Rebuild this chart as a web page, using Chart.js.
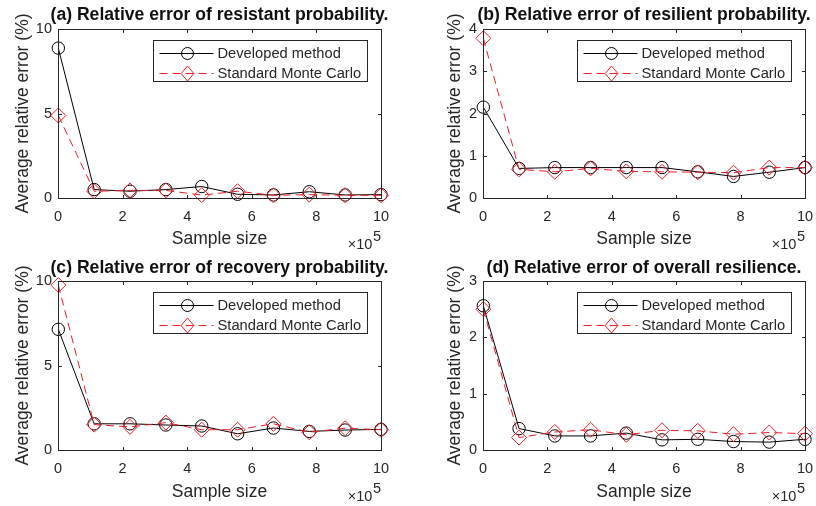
<!DOCTYPE html>
<html><head><meta charset="utf-8">
<script src="https://cdn.jsdelivr.net/npm/chart.js@4/dist/chart.umd.min.js"></script>
<style>
html,body{margin:0;padding:0;background:#fff;}
body{width:816px;height:506px;position:relative;overflow:hidden;}
canvas{position:absolute;}
</style></head>
<body>
<canvas id="pa"></canvas>
<canvas id="pb"></canvas>
<canvas id="pc"></canvas>
<canvas id="pd"></canvas>
<script>
// ---------- data ----------
const sampleSize = [1000, 112000, 223000, 334000, 445000, 556000, 667000, 778000, 889000, 1000000];
const xTickLabels = ['0', '2', '4', '6', '8', '10'];
const seriesNames = ['Developed method', 'Standard Monte Carlo'];
const panelTitles = [
  '(a) Relative error of resistant probability.',
  '(b) Relative error of resilient probability.',
  '(c) Relative error of recovery probability.',
  '(d) Relative error of overall resilience.'
];
const devA = [8.87, 0.50, 0.40, 0.50, 0.68, 0.22, 0.18, 0.37, 0.18, 0.20];
const mcA  = [4.88, 0.40, 0.45, 0.45, 0.17, 0.40, 0.16, 0.20, 0.16, 0.16];
const devB = [2.15, 0.70, 0.72, 0.72, 0.72, 0.72, 0.62, 0.51, 0.61, 0.72];
const mcB  = [3.78, 0.68, 0.62, 0.70, 0.63, 0.62, 0.61, 0.60, 0.72, 0.72];
const devC = [7.14, 1.55, 1.55, 1.48, 1.42, 0.96, 1.30, 1.10, 1.18, 1.22];
const mcC  = [9.76, 1.50, 1.37, 1.62, 1.20, 1.20, 1.55, 1.05, 1.29, 1.20];
const devD = [2.56, 0.38, 0.25, 0.25, 0.30, 0.18, 0.19, 0.15, 0.14, 0.19];
const mcD  = [2.50, 0.22, 0.32, 0.36, 0.27, 0.35, 0.34, 0.28, 0.31, 0.29];
const yMaxes = [10, 4, 10, 3];
const ySteps = [5, 1, 5, 1];
const xLabel = 'Sample size';
const yLabel = 'Average relative error (%)';

// ---------- style ----------
const INK = '#262626';
const BLACK = '#000000';
const RED = '#ee1c25';
const FAM = '"Liberation Sans", Arial, Helvetica, sans-serif';

function drawMarker(ctx, style, x, y, r) {
  ctx.beginPath();
  if (style === 'circle') {
    ctx.arc(x, y, r, 0, Math.PI * 2);
  } else {
    ctx.moveTo(x, y - r); ctx.lineTo(x + r * 0.85, y); ctx.lineTo(x, y + r); ctx.lineTo(x - r * 0.85, y); ctx.closePath();
  }
  ctx.stroke();
}

const matlabPlugin = {
  id: 'matlab',
  afterDraw(chart, args, opts) {
    const ctx = chart.ctx, a = chart.chartArea, xs = chart.scales.x, ys = chart.scales.y;
    ctx.save();
    ctx.strokeStyle = INK; ctx.lineWidth = 1; ctx.setLineDash([]);
    const L = Math.round(a.left) + 0.5, T = Math.round(a.top) + 0.5, R = Math.round(a.right) + 0.5, B = Math.round(a.bottom) + 0.5;
    ctx.strokeRect(L, T, R - L, B - T);
    const tl = 3.5;
    ctx.beginPath();
    xs.ticks.forEach(t => {
      const px = Math.round(xs.getPixelForValue(t.value)) + 0.5;
      ctx.moveTo(px, B); ctx.lineTo(px, B - tl);
      ctx.moveTo(px, T); ctx.lineTo(px, T + tl);
    });
    ys.ticks.forEach(t => {
      const py = Math.round(ys.getPixelForValue(t.value)) + 0.5;
      ctx.moveTo(L, py); ctx.lineTo(L + tl, py);
      ctx.moveTo(R, py); ctx.lineTo(R - tl, py);
    });
    ctx.stroke();

    // title
    ctx.fillStyle = '#111';
    ctx.font = 'bold 17.6px ' + FAM;
    ctx.textAlign = 'center'; ctx.textBaseline = 'middle';
    ctx.fillText(opts.title, (a.left + a.right) / 2, opts.titleY);

    // exponent label
    ctx.fillStyle = INK;
    ctx.font = '14.5px ' + FAM;
    ctx.textAlign = 'right';
    const w5 = ctx.measureText('5').width;
    ctx.fillText('5', a.right, a.bottom + 39);
    ctx.fillText('\u00d710', a.right - w5 - 0.5, a.bottom + 47);

    // legend
    const bw = 214, bh = 41;
    const bx = Math.round(a.right - 14 - bw) + 0.5, by = Math.round(a.top + 11) + 0.5;
    ctx.fillStyle = '#fff';
    ctx.fillRect(bx, by, bw, bh);
    ctx.strokeStyle = INK; ctx.lineWidth = 1;
    ctx.strokeRect(bx, by, bw, bh);
    chart.data.datasets.forEach((ds, i) => {
      const ry = Math.round(by + 12 + i * 20) + 0.5;
      ctx.strokeStyle = ds.borderColor; ctx.lineWidth = 1;
      ctx.setLineDash(ds.borderDash || []);
      ctx.beginPath(); ctx.moveTo(bx + 6, ry); ctx.lineTo(bx + 60, ry); ctx.stroke();
      ctx.setLineDash([]);
      ctx.fillStyle = '#fff';
      drawMarker(ctx, ds.pointStyle, bx + 34, ry, ds.pointStyle === 'circle' ? 6 : 7.5);
      ctx.fillStyle = INK;
      ctx.font = '14.7px ' + FAM;
      ctx.textAlign = 'left'; ctx.textBaseline = 'middle';
      ctx.fillText(ds.label, bx + 64, ry);
    });
    ctx.restore();
  }
};

function makePanel(id, pos, idx, dev, mc) {
  const cv = document.getElementById(id);
  cv.width = pos.w; cv.height = pos.h;
  cv.style.left = pos.l + 'px'; cv.style.top = pos.t + 'px';
  cv.style.width = pos.w + 'px'; cv.style.height = pos.h + 'px';
  const pts = arr => sampleSize.map((s, i) => ({ x: s, y: arr[i] }));
  new Chart(cv, {
    type: 'line',
    data: {
      datasets: [
        { label: seriesNames[0], data: pts(dev), borderColor: BLACK, borderWidth: 1,
          pointStyle: 'circle', pointRadius: 6.2, pointBorderColor: BLACK, pointBorderWidth: 1,
          pointBackgroundColor: 'rgba(0,0,0,0)', tension: 0, order: 1, clip: false },
        { label: seriesNames[1], data: pts(mc), borderColor: RED, borderWidth: 1, borderDash: [8, 5],
          pointStyle: 'rectRot', pointRadius: 7.5, pointBorderColor: RED, pointBorderWidth: 1,
          pointBackgroundColor: 'rgba(0,0,0,0)', tension: 0, order: 0, clip: false }
      ]
    },
    options: {
      responsive: false, animation: false, devicePixelRatio: 1,
      events: [],
      layout: { padding: { top: pos.pt, right: pos.pr, left: 0, bottom: 0 } },
      plugins: {
        legend: { display: false }, tooltip: { enabled: false },
        matlab: { title: panelTitles[idx], titleY: 15 }
      },
      scales: {
        x: {
          type: 'linear', min: 0, max: 1e6,
          grid: { display: false, drawTicks: false }, border: { display: false },
          ticks: { stepSize: 2e5, autoSkip: false, maxRotation: 0, padding: 10,
                   callback: (v, i) => xTickLabels[i], color: INK, font: { family: FAM, size: 14.5 } },
          title: { display: true, text: xLabel, color: INK, font: { family: FAM, size: 17.5 }, padding: { top: 0, bottom: 3.5 } },
          afterFit: s => { s.height = pos.xh; }
        },
        y: {
          type: 'linear', min: 0, max: yMaxes[idx],
          grid: { display: false, drawTicks: false }, border: { display: false },
          ticks: { stepSize: ySteps[idx], padding: 6, color: INK, font: { family: FAM, size: 14.5 } },
          title: { display: true, text: yLabel, color: INK, font: { family: FAM, size: 17.5 }, padding: { top: pos.ytp, bottom: 0 } },
          afterFit: s => { s.width = pos.yw; }
        }
      }
    },
    plugins: [matlabPlugin]
  });
}

makePanel('pa', { l: 0,   t: 0,   w: 408, h: 253, pt: 29, pr: 27, xh: 55, yw: 58, ytp: 12.5 }, 0, devA, mcA);
makePanel('pb', { l: 420, t: 0,   w: 408, h: 253, pt: 29, pr: 23, xh: 55, yw: 63, ytp: 24.5 }, 1, devB, mcB);
makePanel('pc', { l: 0,   t: 253, w: 408, h: 253, pt: 28, pr: 27, xh: 56, yw: 58, ytp: 12.5 }, 2, devC, mcC);
makePanel('pd', { l: 420, t: 253, w: 408, h: 253, pt: 28, pr: 23, xh: 56, yw: 63, ytp: 24.5 }, 3, devD, mcD);
</script>
</body></html>
